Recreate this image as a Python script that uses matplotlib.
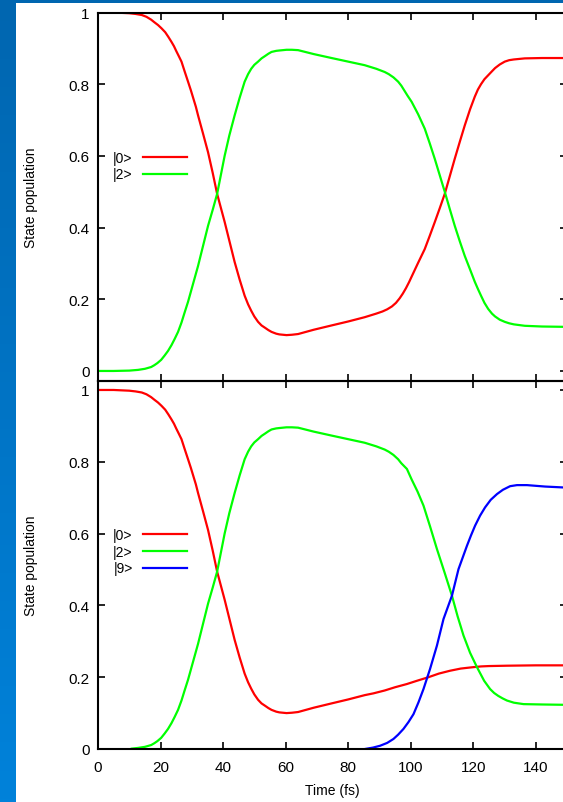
import numpy as np
import matplotlib
matplotlib.use("Agg")
import matplotlib.pyplot as plt
from matplotlib.patches import Rectangle
from matplotlib.colors import LinearSegmentedColormap

plt.rcParams['font.family'] = ['Liberation Sans', 'DejaVu Sans']

# ---------------- data ----------------
# |0> population, shared early part (both panels), t <= 85.3 fs
t_red_early = [0, 5, 10, 12, 14, 15.5, 17, 18, 19.2, 20.3, 21.5, 22.5, 23.5, 24.3, 25, 25.8,
               26.7, 27.7, 28.8, 29.7, 30.5, 31.3, 32, 33.6, 35.2, 36.7, 38.1, 39.3, 40.5,
               42.1, 43.7, 45.3, 46.9, 48, 49, 50, 51.2, 52.3, 53.5, 54.5, 55.5, 57, 58,
               60.3, 62, 64, 69, 74.7, 80, 85.3]
p_red_early = [1.0, 1.0, 0.998, 0.996, 0.993, 0.988, 0.98, 0.973, 0.965, 0.956, 0.945, 0.932,
               0.918, 0.906, 0.893, 0.879, 0.863, 0.836, 0.807, 0.783, 0.76, 0.737, 0.713,
               0.662, 0.61, 0.552, 0.494, 0.455, 0.416, 0.36, 0.304, 0.255, 0.21, 0.186,
               0.168, 0.152, 0.137, 0.127, 0.12, 0.114, 0.109, 0.104, 0.102, 0.10, 0.101,
               0.103, 0.115, 0.127, 0.138, 0.15]

# top panel |0> after 85.3 fs
t_red_top_late = [89, 91, 92.5, 94, 95.3, 96.5, 97.5, 98.5, 99.5, 100.3, 102.4, 104.5, 106.1,
                  107.7, 109.3, 110.9, 112.5, 114.1, 115.7, 117.3, 119, 120.5, 121.5, 122.5,
                  123.6, 124.8, 126, 127, 128.5, 130.1, 131.5, 133, 136.5, 142, 150]
p_red_top_late = [0.16, 0.166, 0.172, 0.18, 0.19, 0.203, 0.216, 0.231, 0.248, 0.263, 0.302,
                  0.34, 0.377, 0.415, 0.454, 0.494, 0.543, 0.592, 0.639, 0.685, 0.73, 0.765,
                  0.785, 0.80, 0.814, 0.825, 0.836, 0.845, 0.855, 0.863, 0.867, 0.869, 0.872,
                  0.873, 0.873]

# top panel |2>
t_green_top = [0, 5, 10, 12.8, 15, 17, 18, 19, 20.2, 21.3, 22.4, 23.5, 24.5, 25.6, 26.7, 27.7,
               28.8, 30.4, 32, 33.6, 35.2, 36.7, 38.1, 39.3, 40.5, 42, 43.7, 45.3, 46.9, 48,
               49, 50, 51.2, 52.3, 53.5, 54.5, 55.5, 57, 58, 60.3, 62, 64, 69, 74.7, 80, 85.3,
               89, 91.7, 93, 94.5, 96, 97, 98, 99, 100.3, 102.4, 104.5, 106.1, 107.7, 109.3,
               110.9, 112.5, 114.1, 115.7, 117.3, 119, 120.5, 121.5, 122.5, 123.6, 124.8,
               126, 127, 128.5, 130.1, 131.5, 133, 136.5, 142, 150]
p_green_top = [0.0, 0.0, 0.001, 0.003, 0.006, 0.011, 0.016, 0.022, 0.031, 0.043, 0.056, 0.072,
               0.089, 0.109, 0.135, 0.163, 0.193, 0.243, 0.293, 0.349, 0.405, 0.45, 0.494,
               0.547, 0.60, 0.657, 0.713, 0.762, 0.807, 0.828, 0.843, 0.854, 0.863, 0.872,
               0.879, 0.885, 0.89, 0.893, 0.894, 0.896, 0.896, 0.895, 0.884, 0.873, 0.863,
               0.853, 0.843, 0.834, 0.828, 0.819, 0.807, 0.796, 0.782, 0.768, 0.751, 0.716,
               0.676, 0.635, 0.592, 0.546, 0.50, 0.452, 0.405, 0.362, 0.321, 0.283, 0.249,
               0.229, 0.21, 0.19, 0.173, 0.16, 0.152, 0.143, 0.137, 0.133, 0.13, 0.126,
               0.124, 0.123]

# bottom panel |0> after 85.3 fs
t_red_bot_late = [88.1, 91.7, 95, 98.8, 102, 105.7, 109, 112.6, 116, 118, 120.1, 122.5, 125,
                  130.8, 140, 150]
p_red_bot_late = [0.155, 0.163, 0.172, 0.181, 0.19, 0.2, 0.21, 0.218, 0.224, 0.226, 0.228,
                  0.230, 0.231, 0.232, 0.233, 0.233]

# bottom panel |2>
t_green_bot = [10.8, 12.8, 15, 17, 18, 19, 20.2, 21.3, 22.4, 23.5, 24.5, 25.6, 26.7, 27.7,
               28.8, 30.4, 32, 33.6, 35.2, 36.7, 38.1, 39.3, 40.5, 42, 43.7, 45.3, 46.9, 48,
               49, 50, 51.2, 52.3, 53.5, 54.5, 55.5, 57, 58, 60.3, 62, 64, 69, 74.7, 80, 85.3,
               89, 91.7, 93, 94.5, 96, 97, 98.8, 100.3, 102.2, 104.1, 106.2, 108.4, 110.9,
               113.2, 115, 116.9, 119, 121.2, 123.5, 125.4, 126.7, 128, 129.4, 130.8, 133,
               136.1, 142, 150]
p_green_bot = [0.001, 0.003, 0.006, 0.011, 0.016, 0.022, 0.031, 0.043, 0.056, 0.072, 0.089,
               0.109, 0.135, 0.163, 0.193, 0.243, 0.293, 0.349, 0.405, 0.45, 0.494, 0.547,
               0.60, 0.657, 0.713, 0.762, 0.807, 0.828, 0.843, 0.854, 0.863, 0.872, 0.879,
               0.885, 0.89, 0.893, 0.894, 0.896, 0.896, 0.895, 0.884, 0.873, 0.863, 0.853,
               0.843, 0.834, 0.828, 0.819, 0.807, 0.796, 0.78, 0.751, 0.717, 0.678, 0.62,
               0.557, 0.49, 0.427, 0.37, 0.316, 0.268, 0.228, 0.19, 0.167, 0.156, 0.148,
               0.141, 0.135, 0.129, 0.125, 0.124, 0.123]

# bottom panel |9>
t_blue_bot = [85.4, 88, 90.2, 92.5, 94.5, 96, 97.7, 99.3, 100.9, 102.5, 104.1, 106.2, 108.4,
              110.5, 113.2, 115.3, 118, 119.3, 120.6, 122.2, 123.8, 125.6, 127.6, 129.5,
              131.8, 134, 137.2, 143, 150]
p_blue_bot = [0.0, 0.004, 0.009, 0.017, 0.028, 0.04, 0.056, 0.075, 0.097, 0.13, 0.167, 0.223,
              0.288, 0.362, 0.427, 0.501, 0.566, 0.595, 0.622, 0.65, 0.673, 0.694, 0.71,
              0.722, 0.732, 0.735, 0.735, 0.731, 0.728]

state_labels = ["|0>", "|2>", "|9>"]
x_ticks = [0, 20, 40, 60, 80, 100, 120, 140]
x_tick_labels = ["0", "20", "40", "60", "80", "100", "120", "140"]
y_ticks = [0, 0.2, 0.4, 0.6, 0.8, 1.0]
y_tick_labels = ["0", "0.2", "0.4", "0.6", "0.8", "1"]
x_label = "Time (fs)"
y_label = "State population"

t_red_top = t_red_early + t_red_top_late
p_red_top = p_red_early + p_red_top_late
t_red_bot = t_red_early + t_red_bot_late
p_red_bot = p_red_early + p_red_bot_late

# ---------------- figure ----------------
W, H = 563, 803
fig = plt.figure(figsize=(W / 100, H / 100), dpi=100)
fig.patch.set_facecolor("white")

# blue frame strips (slide background)
bg = fig.add_axes([0, 0, 16 / W, 1])
grad = np.linspace(0, 1, 256).reshape(-1, 1)
cmap = LinearSegmentedColormap.from_list("bl", ["#0066b0", "#0082da"])
bg.imshow(grad, aspect="auto", cmap=cmap, extent=[0, 1, 1, 0])
bg.set_axis_off()
fig.patches.append(Rectangle((0, 1 - 4 / H), 1, 4 / H, transform=fig.transFigure,
                             facecolor="#0066b0", edgecolor="none", zorder=5))

left = 98 / W
width = (567 - 98) / W
ax1 = fig.add_axes([left, 1 - 382 / H, width, (382 - 13.5) / H])
ax2 = fig.add_axes([left, 1 - 750 / H, width, (750 - 382) / H])

RED, GREEN, BLUE = "#ff0000", "#00ff00", "#0000ff"
lw = 1.6

l1, = ax1.plot(t_red_top, p_red_top, color=RED, lw=lw, label=state_labels[0])
l2, = ax1.plot(t_green_top, p_green_top, color=GREEN, lw=lw, label=state_labels[1])

m1, = ax2.plot(t_red_bot, p_red_bot, color=RED, lw=lw, label=state_labels[0])
m2, = ax2.plot(t_green_bot, p_green_bot, color=GREEN, lw=lw, label=state_labels[1])
m3, = ax2.plot(t_blue_bot, p_blue_bot, color=BLUE, lw=lw, label=state_labels[2])

ax1.set_ylim(-0.028, 1.0)
ax2.set_ylim(0.0, 1.025)

for ax in (ax1, ax2):
    ax.set_xlim(0, 150)
    ax.set_yticks(y_ticks, y_tick_labels)
    ax.set_xticks(x_ticks, x_tick_labels)
    ax.tick_params(direction="in", length=5, width=1.2, top=True, right=True,
                   labelsize=11, pad=6, colors="black")
    ax.tick_params(axis="x", pad=8)
    for s in ax.spines.values():
        s.set_linewidth(1.5)
    ax.set_ylabel(y_label, fontsize=10)
    ax.yaxis.set_label_coords(-0.128, 0.5)
    ax.set_facecolor("none")

ax1.tick_params(labelbottom=False)
ax2.set_xlabel(x_label, fontsize=10, labelpad=6.5)

leg_kw = dict(loc="upper left", markerfirst=False, frameon=False, fontsize=10,
              handlelength=3.2, handletextpad=0.75, labelspacing=0.2,
              borderpad=0, borderaxespad=0)
ax1.legend(handles=[l1, l2], bbox_to_anchor=(0.032, 0.625), **leg_kw)
ax2.legend(handles=[m1, m2, m3], bbox_to_anchor=(0.032, 0.601), **leg_kw)

fig.savefig("out.png", dpi=100)
